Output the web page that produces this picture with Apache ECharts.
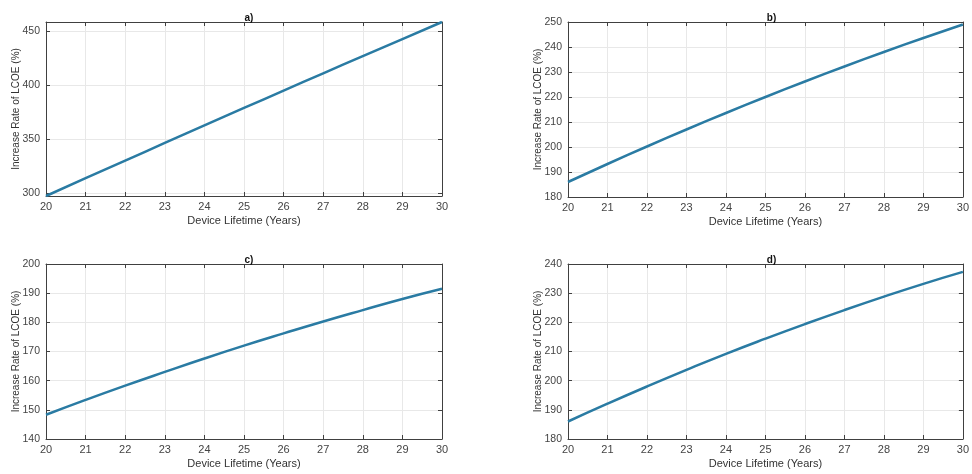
<!DOCTYPE html>
<html>
<head>
<meta charset="utf-8">
<script src="https://cdn.jsdelivr.net/npm/echarts@6/dist/echarts.min.js"></script>
<style>
html,body{margin:0;padding:0;background:#fff;}
#c{width:972px;height:474px;}
</style>
</head>
<body>
<div id="c"></div>
<script>
const years = [20, 21, 22, 23, 24, 25, 26, 27, 28, 29, 30];
const seriesA = [297.5, 314.0, 330.3, 346.6, 362.9, 379.0, 395.1, 411.1, 427.0, 442.8, 458.6];
const seriesB = [186, 193.2, 200.2, 207.0, 213.6, 220, 226.2, 232.2, 238.0, 243.6, 249];
const seriesC = [148.3, 153.4, 158.3, 163.0, 167.6, 172, 176.2, 180.3, 184.2, 188.0, 191.5];
const seriesD = [186, 192.1, 198.0, 203.7, 209.2, 214.4, 219.4, 224.2, 228.8, 233.2, 237.3];
const panelTitles = ['a)', 'b)', 'c)', 'd)'];
const yRanges = [[297.5, 458.6, null], [180, 250, 10], [140, 200, 10], [180, 240, 10]];
const xName = 'Device Lifetime (Years)';
const yName = 'Increase Rate of LCOE (%)';

const FONT = 'Liberation Sans, Arial, sans-serif';
const grids = [
  {left: 46, top: 22, width: 396, height: 174},
  {left: 568, top: 22, width: 397, height: 175},
  {left: 46, top: 264, width: 396, height: 175},
  {left: 568, top: 264, width: 397, height: 175}
];
const data = [seriesA, seriesB, seriesC, seriesD];
const lineCol = '#404040';
const gridCol = '#e8e8e8';

const xAxis = [], yAxis = [], series = [], title = [];
grids.forEach((g, i) => {
  const r = yRanges[i];
  title.push({
    text: panelTitles[i],
    left: g.left + g.width / 2, top: g.top - 14,
    textAlign: 'center',
    textStyle: {fontFamily: FONT, fontSize: 10, fontWeight: 'bold', color: '#111'}
  });
  xAxis.push({
    type: 'value', gridIndex: i, min: 20, max: 30, interval: 1, position: 'bottom',
    name: xName, nameLocation: 'middle', nameGap: 19,
    nameTextStyle: {fontFamily: FONT, fontSize: 11, color: '#333'},
    axisLine: {show: true, lineStyle: {color: lineCol, width: 1}},
    axisTick: {show: true, inside: true, length: 4, lineStyle: {color: lineCol}},
    axisLabel: {fontFamily: FONT, fontSize: 11, color: '#444', margin: 5},
    splitLine: {show: true, lineStyle: {color: gridCol, width: 1}}
  });
  xAxis.push({
    type: 'value', gridIndex: i, min: 20, max: 30, interval: 1, position: 'top',
    axisLine: {show: true, lineStyle: {color: lineCol, width: 1}},
    axisTick: {show: true, inside: true, length: 4, lineStyle: {color: lineCol}},
    axisLabel: {show: false}, splitLine: {show: false}
  });
  const yBase = {
    type: 'value', gridIndex: i, min: r[0], max: r[1]
  };
  if (r[2]) yBase.interval = r[2]; else yBase.splitNumber = 4;
  yAxis.push(Object.assign({}, yBase, {
    position: 'left',
    name: yName, nameLocation: 'middle', nameGap: 25, nameMoveOverlap: false,
    nameTextStyle: {fontFamily: FONT, fontSize: 10, color: '#333'},
    axisLine: {show: true, lineStyle: {color: lineCol, width: 1}},
    axisTick: {show: true, inside: true, length: 4, lineStyle: {color: lineCol}},
    axisLabel: {fontFamily: FONT, fontSize: 10.5, color: '#444', margin: 6,
      showMinLabel: r[2] ? true : false, showMaxLabel: r[2] ? true : false},
    splitLine: {show: true, lineStyle: {color: gridCol, width: 1}}
  }));
  yAxis.push(Object.assign({}, yBase, {
    position: 'right',
    axisLine: {show: true, lineStyle: {color: lineCol, width: 1}},
    axisTick: {show: true, inside: true, length: 4, lineStyle: {color: lineCol}},
    axisLabel: {show: false}, splitLine: {show: false}
  }));
  series.push({
    type: 'line', xAxisIndex: i * 2, yAxisIndex: i * 2,
    data: years.map((y, k) => [y, data[i][k]]),
    smooth: true, showSymbol: false, symbol: 'none',
    lineStyle: {color: '#2a7ba3', width: 2.5},
    z: 3
  });
});

const chart = echarts.init(document.getElementById('c'), null, {renderer: 'canvas'});
chart.setOption({
  animation: false,
  backgroundColor: '#fff',
  title, grid: grids, xAxis, yAxis, series
});
</script>
</body>
</html>
